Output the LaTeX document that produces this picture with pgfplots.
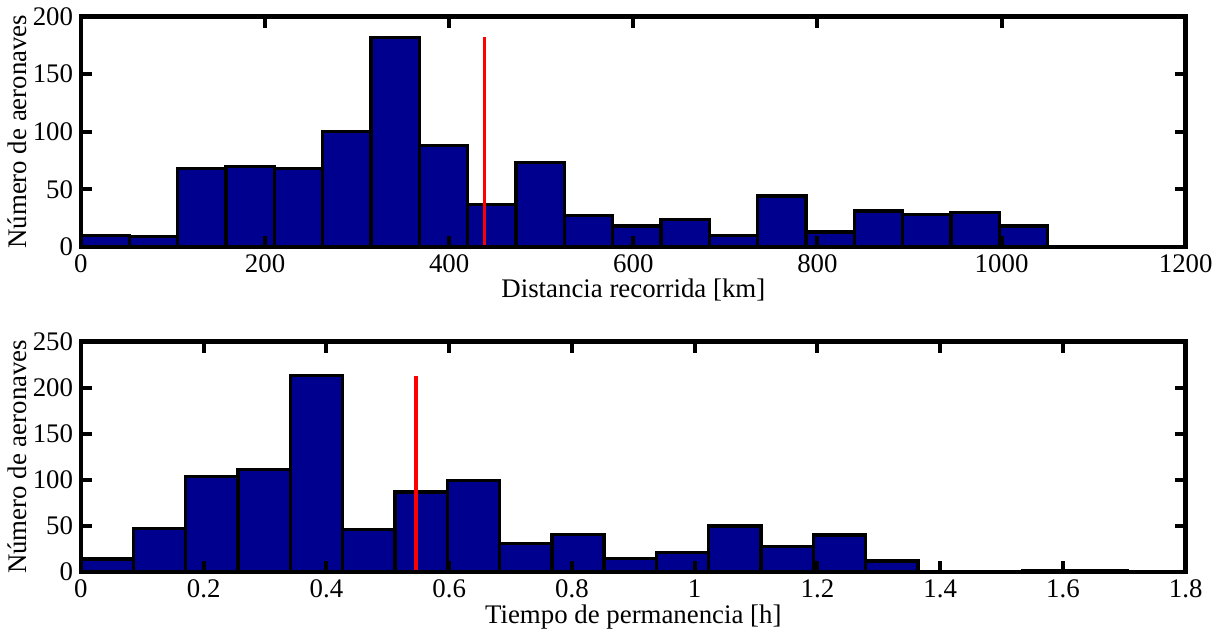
\documentclass[border=0pt]{standalone}
\usepackage{fontspec}
\setmainfont{Liberation Serif}
\usepackage{pgfplots}
\pgfplotsset{compat=1.18}
\definecolor{histblue}{RGB}{0,0,143}

\pgfplotsset{
  histax/.style={
    width=494pt, height=103pt, scale only axis,
    ymin=0,
    axis line style={line width=2pt},
    every tick/.style={black, line width=1.8pt},
    major tick length=5pt,
    tick align=inside,
    font=\fontsize{12}{14}\selectfont,
    /pgf/number format/assume math mode=true,
    /pgf/number format/1000 sep={},
    ylabel={Número de aeronaves},
    ylabel style={yshift=-4pt},
    xlabel style={yshift=4pt},
    axis on top,
  },
  histbar/.style={ybar interval, draw=black, fill=histblue, line width=1.5pt},
  meanline/.style={red, line width=1.5pt},
}

\begin{document}
\begin{tikzpicture}
% distancia recorrida
\begin{axis}[histax,
    xmin=0, xmax=1200, ymax=200,
    xtick={0,200,...,1200}, ytick={0,50,...,200},
    xlabel={Distancia recorrida [km]}]
\addplot[histbar] coordinates {
  (0,10) (52.5,9) (105,68) (157.5,70) (210,68) (262.5,100) (315,182)
  (367.5,88) (420,37) (472.5,73) (525,27) (577.5,18) (630,24) (682.5,10)
  (735,44) (787.5,13) (840,31) (892.5,28) (945,30) (997.5,18) (1050,18)
};
\addplot[meanline] coordinates {(438,0) (438,182)};
\end{axis}

% tiempo de permanencia
\begin{axis}[histax, at={(0pt,-145.4pt)},
    xmin=0, xmax=1.8, ymax=250,
    xtick={0,0.2,...,1.8}, ytick={0,50,...,250},
    xlabel={Tiempo de permanencia [h]}]
\addplot[histbar] coordinates {
  (0,14) (0.08525,47) (0.1705,104) (0.25575,111) (0.341,213) (0.42625,46)
  (0.5115,87) (0.59675,99) (0.682,31) (0.76725,41) (0.8525,15) (0.93775,21)
  (1.023,50) (1.10825,28) (1.1935,40) (1.27875,12) (1.364,0) (1.44925,0)
  (1.5345,1) (1.61975,1) (1.705,1)
};
\addplot[meanline] coordinates {(0.546,0) (0.546,213)};
\end{axis}
\end{tikzpicture}
\end{document}
